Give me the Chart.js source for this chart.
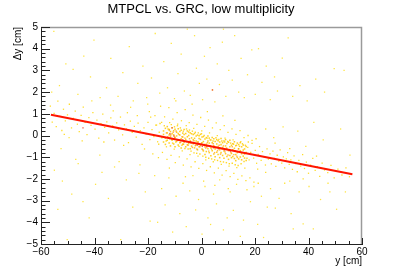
<!DOCTYPE html>
<html>
<head>
<meta charset="utf-8">
<script src="https://cdn.jsdelivr.net/npm/chart.js@4/dist/chart.umd.min.js"></script>
<style>
html,body{margin:0;padding:0;background:#fff;}
canvas{display:block;}
</style>
</head>
<body>
<canvas id="c" width="402" height="273"></canvas>
<script>
const chartTitle = "MTPCL vs. GRC, low multiplicity";
const xTitle = "y [cm]";
const yTitle = "\u0394y [cm]";
const xRange = [-60, 60];
const yRange = [-5, 5];

// linear fit drawn on top
const fitX = [-56.3, 56.4];
const fitY = [0.96, -1.79];

// sparse background points [y, dy]
const haloPts = [
[-55.2,4.8],[-53.1,2.3],[-50.7,3.3],[-48.0,3.05],[-46.2,1.9],[-44.0,3.66],[-41.5,2.7],[-40.2,4.4],[-37.9,1.75],[-35.5,2.2],
[-33.9,3.55],[-31.2,1.8],[-29.4,2.9],[-27.0,4.1],[-25.5,1.6],[-23.8,2.4],[-21.9,3.2],[-20.5,1.75],[-18.7,2.65],[-17.3,4.7],
[-15.6,1.95],[-14.1,3.4],[-12.7,2.2],[-11.3,4.25],[-10.1,1.7],[-8.8,2.85],[-7.6,3.75],[-6.4,2.05],[-5.3,4.9],[-4.2,1.85],
[-2.6,4.6],[-1.9,3.1],[-0.8,2.4],[0.4,1.65],[1.1,3.65],[2.0,2.6],[3.2,4.05],[4.1,2.1],[5.0,1.55],[5.9,3.3],
[6.7,2.35],[7.8,4.3],[8.2,4.9],[9.1,1.8],[10.2,3.0],[11.5,2.55],[12.4,4.6],[13.9,2.0],[14.8,3.55],[16.0,1.75],
[17.2,2.8],[18.8,3.95],[20.1,1.9],[21.3,4.0],[22.6,2.45],[24.2,3.2],[25.7,1.65],[27.3,2.7],[28.4,2.05],[30.2,3.57],
[32.4,4.5],[34.1,1.8],[36.8,2.3],[39.5,1.6],[42.7,2.6],[46.0,2.0],[49.6,3.08],[53.3,3.0],
[-55.0,-1.6],[-53.7,-3.4],[-52.0,-2.1],[-50.2,-4.8],[-48.5,-2.7],[-46.1,-1.3],[-44.3,-3.05],[-42.0,-3.8],[-39.6,-2.25],[-37.2,-1.7],
[-34.8,-2.9],[-32.5,-1.45],[-30.2,-4.8],[-28.1,-2.05],[-25.7,-3.3],[-23.4,-1.75],[-21.0,-2.6],[-19.2,-3.95],[-17.5,-1.85],[-16.4,-4.0],
[-14.9,-2.45],[-13.6,-3.2],[-12.2,-1.95],[-10.8,-4.45],[-9.5,-2.8],[-8.1,-3.6],[-6.9,-2.2],[-5.7,-4.2],[-4.4,-2.55],[-3.2,-1.85],
[-2.2,-3.43],[-1.1,-2.95],[0.2,-4.55],[1.3,-2.35],[2.4,-3.8],[3.4,-4.1],[4.5,-2.7],[5.6,-3.15],[6.8,-2.05],[8.2,-4.35],
[9.6,-3.8],[10.7,-2.6],[11.9,-3.45],[13.1,-2.25],[14.5,-4.65],[15.7,-3.9],[17.0,-2.5],[18.3,-3.05],[19.6,-2.35],[21.0,-4.1],
[22.4,-2.8],[23.2,-4.7],[24.6,-3.3],[25.8,-2.45],[27.6,-3.35],[29.0,-2.9],[31.1,-2.2],[33.5,-3.6],[34.3,-4.3],[36.5,-2.6],
[38.0,-4.07],[40.2,-2.35],[41.8,-4.3],[44.5,-2.95],[47.3,-2.2],[50.5,-3.4],[53.8,-2.6],
[-52.5,-0.6],[-47.0,-1.1],[-41.0,1.6],[-38.0,-0.9],[-34.0,1.4],[-30.8,-1.2],[-26.5,1.3],[-23.0,-1.35],[-20.1,1.45],[24.0,0.3],
[27.0,-0.1],[30.5,0.4],[33.0,-2.1],[36.0,0.2],[39.0,-0.5],[42.0,0.6],[45.5,-0.2],[48.0,-2.6],[52.0,0.3],[55.5,-0.9],
[-56.0,2.0],[-49.5,-0.1]
];

// points along the correlation band
const bandPts = [
[-56.5,1.35],[-55.8,0.62],[-55.1,1.02],[-54.3,0.41],[-53.7,1.58],[-53.0,0.88],[-52.2,0.23],[-51.6,1.21],[-50.9,0.67],[-50.1,0.95],
[-49.4,1.44],[-48.6,0.35],[-47.9,0.79],[-47.2,1.12],[-46.4,0.52],[-45.7,0.18],[-45.0,0.93],[-44.2,1.31],[-43.5,0.61],[-42.8,0.04],
[-42.1,0.82],[-41.3,0.47],[-40.6,1.05],[-39.8,0.29],[-39.1,0.71],[-38.4,-0.12],[-37.6,0.55],[-36.9,0.98],[-36.2,0.37],[-35.4,0.63],
[-34.7,0.12],[-33.9,0.81],[-33.2,0.44],[-32.5,-0.21],[-31.7,0.58],[-31.0,0.26],[-30.3,0.85],[-29.5,0.03],[-28.8,0.49],[-28.1,0.31],
[-27.3,-0.33],[-26.6,0.66],[-25.9,0.14],[-25.1,0.42],[-24.4,-0.08],[-23.7,0.57],[-22.9,0.22],[-22.2,-0.41],[-21.5,0.35],[-20.7,0.06],
[-20.0,0.61],[-19.3,-0.19],[-18.5,0.27],[-17.8,-0.05],[-17.1,0.48],[-16.4,-0.29],[-15.8,0.15],[-24.0,0.92],[-27.7,1.05],[-33.0,1.14],
[-19.0,0.85],[-21.3,-0.62],[-29.1,-0.45],[-36.5,-0.3],[-44.6,-0.25],[-51.3,0.05],
[17.3,-0.55],[17.8,-1.12],[18.4,-0.78],[18.9,-0.36],[19.5,-1.04],[20.1,-0.69],[20.6,-1.28],[21.2,-0.87],[21.7,-0.51],[22.3,-1.15],
[22.8,-0.74],[23.4,-0.98],[23.9,-1.36],[24.5,-0.62],[25.0,-1.09],[25.6,-0.85],[26.1,-1.31],[26.7,-0.72],[27.2,-1.05],[27.8,-1.42],
[28.3,-0.91],[28.9,-1.18],[29.4,-0.66],[30.0,-1.27],[30.6,-0.98],[31.1,-1.49],[31.7,-1.08],[32.2,-0.79],[32.8,-1.33],[33.4,-1.12],
[34.0,-1.56],[34.6,-0.94],[35.2,-1.29],[35.8,-1.67],[36.4,-1.15],[37.1,-1.41],[37.8,-0.88],[38.5,-1.52],[39.2,-1.23],[40.0,-1.74],
[40.8,-1.36],[41.6,-1.05],[42.5,-1.61],[43.3,-1.44],[44.2,-1.88],[45.1,-1.27],[46.0,-1.59],[47.2,-1.71],[48.4,-1.38],[49.6,-1.95],
[51.0,-1.55],[52.5,-1.82],[54.0,-1.49],[55.3,-1.9],[21.0,-1.55],[24.0,-1.7],[27.5,-0.35],[33.0,-0.6],[38.0,-2.0],[43.0,-0.95]
];

// wider spread around the central cluster
const widePts = [
[-19.5,1.1],[-18.2,-0.85],[-17.4,0.92],[-16.1,-1.02],[-15.3,1.35],[-14.6,-0.78],[-13.8,0.86],[-12.9,-1.1],[-12.2,1.28],[-11.4,-0.92],
[-10.7,0.75],[-9.8,-1.25],[-9.1,1.05],[-8.3,-0.98],[-7.5,0.68],[-6.8,-1.36],[-6.1,1.19],[-5.4,-1.08],[-4.6,0.59],[-3.9,-1.45],
[-3.2,0.94],[-2.4,-1.21],[-1.7,0.51],[-1.0,-1.52],[-0.3,0.83],[0.5,-1.3],[1.2,0.42],[1.9,-1.61],[2.6,0.71],[3.3,-1.44],
[4.1,0.35],[4.8,-1.72],[5.5,0.58],[6.3,-1.5],[7.0,0.27],[7.7,-1.83],[8.5,0.46],[9.2,-1.62],[9.9,0.14],[10.7,-1.9],
[11.4,0.31],[12.1,-1.75],[12.9,0.05],[13.6,-2.02],[14.4,0.22],[15.1,-1.86],[15.9,-0.1],[16.6,-2.08],[17.4,0.0],[18.1,-1.95],
[18.9,-0.22],[19.6,-2.15],[20.4,-0.15],[21.2,-2.2],[-16.8,0.48],[-14.9,0.61],[-13.1,-0.52],[-11.9,0.59],[-10.2,-0.63],[-8.9,0.52],
[-7.2,-0.71],[-5.7,0.45],[-4.3,-0.88],[-2.9,0.33],[-1.3,-0.95],[0.1,0.21],[1.6,-1.12],[3.0,0.12],[4.4,-1.21],[5.9,-0.01],
[7.4,-1.33],[8.8,-0.12],[10.3,-1.41],[11.8,-0.2],[13.2,-1.48],[14.7,-0.28],[16.2,-1.5],[-3.5,1.45],[2.2,1.1],[8.0,0.9],
[-9.6,1.6],[12.5,0.7],[5.0,-2.3],[-6.0,-1.9],[0.8,-2.1],[10.0,-2.45],[-12.0,-1.5]
];

// dense central cluster
const corePts = [
[-14.2,0.21],[-14.2,-0.30],[-14.2,0.05],[-13.5,-0.12],[-13.5,0.33],[-13.5,-0.41],[-12.8,0.12],[-12.8,-0.22],[-12.8,0.41],
[-12.1,-0.35],[-12.1,0.02],[-12.1,0.27],[-11.6,0.18],[-11.6,-0.48],[-11.6,-0.05],[-11.0,-0.22],[-11.0,0.36],[-11.0,0.08],
[-10.4,0.03],[-10.4,-0.39],[-10.4,0.22],[-9.9,-0.09],[-9.9,0.29],[-9.9,-0.52],[-9.3,0.15],[-9.3,-0.27],[-9.3,-0.02],
[-8.7,-0.44],[-8.7,0.09],[-8.7,0.31],[-8.1,0.02],[-8.1,-0.33],[-8.1,0.18],[-7.6,-0.15],[-7.6,0.24],[-7.6,-0.58],
[-7.0,0.11],[-7.0,-0.40],[-7.0,-0.07],[-6.5,-0.31],[-6.5,0.05],[-6.5,0.28],[-5.9,0.09],[-5.9,-0.52],[-5.9,-0.18],
[-5.3,-0.06],[-5.3,0.21],[-5.3,-0.43],[-4.8,-0.37],[-4.8,0.00],[-4.8,0.16],[-4.2,0.12],[-4.2,-0.25],[-4.2,-0.61],
[-3.7,-0.11],[-3.7,-0.49],[-3.7,0.08],[-3.1,0.05],[-3.1,-0.38],[-3.1,-0.20],[-2.6,-0.57],[-2.6,-0.13],[-2.6,0.09],
[-2.0,-0.02],[-2.0,-0.44],[-2.0,-0.25],[-1.5,-0.30],[-1.5,0.02],[-1.5,-0.66],[-0.9,-0.14],[-0.9,-0.52],[-0.9,-0.01],
[-0.4,-0.45],[-0.4,-0.18],[-0.4,0.05],[0.2,-0.07],[0.2,-0.62],[0.2,-0.33],[0.7,-0.28],[0.7,-0.71],[0.7,-0.05],
[1.3,-0.53],[1.3,-0.16],[1.3,-0.88],[1.8,-0.10],[1.8,-0.40],[1.8,-0.74],[2.4,-0.61],[2.4,-0.25],[2.4,-0.02],
[2.9,-0.35],[2.9,-0.79],[2.9,-0.12],[3.5,-0.21],[3.5,-0.58],[3.5,-0.93],[4.0,-0.70],[4.0,-0.33],[4.0,-0.09],
[4.6,-0.15],[4.6,-0.47],[4.6,-0.85],[5.1,-0.62],[5.1,-0.28],[5.1,-0.98],[5.7,-0.39],[5.7,-0.77],[5.7,-0.19],
[6.2,-0.88],[6.2,-0.51],[6.2,-0.24],[6.8,-0.30],[6.8,-0.66],[6.8,-1.02],[7.3,-0.79],[7.3,-0.42],[7.3,-0.14],
[7.9,-0.55],[7.9,-0.92],[7.9,-0.33],[8.4,-0.25],[8.4,-0.71],[8.4,-1.05],[9.0,-0.84],[9.0,-0.48],[9.0,-0.19],
[9.5,-0.37],[9.5,-0.97],[9.5,-0.60],[10.1,-0.70],[10.1,-0.31],[10.1,-1.10],[10.6,-0.92],[10.6,-0.52],[10.6,-0.22],
[11.2,-0.45],[11.2,-0.83],[11.2,-1.02],[11.7,-0.97],[11.7,-0.38],[11.7,-0.66],[12.3,-0.59],[12.3,-1.06],[12.3,-0.29],
[12.8,-0.88],[12.8,-0.47],[12.8,-1.16],[13.4,-0.35],[13.4,-0.79],[13.4,-1.01],[13.9,-1.08],[13.9,-0.61],[13.9,-0.42],
[14.5,-0.70],[14.5,-0.99],[14.5,-0.33],[15.0,-0.52],[15.0,-1.12],[15.0,-0.84],[15.6,-0.95],[15.6,-0.44],[15.6,-0.67],
[16.1,-0.62],[16.1,-1.04],[16.1,-0.85],[16.7,-0.78],[16.7,-0.51],[16.7,-1.15]
];
const core2Pts = [
[-14.8,-0.1],[-13.9,0.45],[-13.2,-0.25],[-12.5,0.3],[-11.9,-0.15],[-11.3,0.5],[-10.8,-0.35],[-10.1,0.4],[-9.6,-0.3],[-9.0,0.45],
[-8.4,-0.5],[-7.9,0.35],[-7.3,-0.45],[-6.8,0.2],[-6.2,-0.6],[-5.6,0.3],[-5.0,-0.62],[-4.5,0.25],[-3.9,-0.72],[-3.4,0.2],
[-2.8,-0.8],[-2.3,0.15],[-1.8,-0.82],[-1.2,0.12],[-0.6,-0.85],[0.0,0.08],[0.5,-0.95],[1.0,0.0],[1.6,-1.0],[2.1,-0.12],
[2.7,-1.05],[3.2,-0.2],[3.8,-1.08],[4.3,-0.25],[4.9,-1.12],[5.4,-0.1],[6.0,-1.15],[6.5,-0.18],[7.1,-1.2],[7.6,-0.25],
[8.2,-1.22],[8.7,-0.3],[9.3,-1.25],[9.8,-0.28],[10.4,-1.3],[10.9,-0.35],[11.5,-1.28],[12.0,-0.4],[12.6,-1.35],[13.1,-0.45],
[13.7,-1.38],[14.2,-0.5],[14.8,-1.3],[15.3,-0.38],[15.9,-1.2],[16.4,-0.45],[17.0,-1.05],[-15.5,0.55],[-16.0,-0.4],[17.5,-0.3]
];

// highest-density cells
const hotPts = [
[-13.1,0.12],[-12.6,-0.05],[-12.0,0.25],[-11.5,0.02],[-11.1,-0.18],[-10.6,0.15],[-10.0,-0.08],[-9.5,0.21],[-9.0,-0.22],[-8.4,0.04],
[-7.8,-0.31],[-7.3,-0.06],[-6.7,-0.4],[-6.2,-0.12],[-5.6,-0.28],[-5.0,-0.45],[-4.5,-0.15],[-3.9,-0.36],[-3.4,-0.55],[-2.8,-0.24],
[-2.3,-0.47],[-1.7,-0.62],[-1.2,-0.3],[-0.6,-0.52],[0.0,-0.36],[0.5,-0.66],[1.1,-0.41],[1.6,-0.58],[2.2,-0.33],[2.7,-0.72],
[3.3,-0.47],[3.8,-0.63],[4.4,-0.38],[4.9,-0.79],[5.5,-0.55],[6.0,-0.7],[6.6,-0.45],[7.1,-0.86],[7.7,-0.62],[8.2,-0.48],
[8.8,-0.76],[9.3,-0.58],[9.9,-0.9],[10.4,-0.65],[11.0,-0.79],[11.5,-0.52],[12.1,-0.88],[12.6,-0.7],[13.2,-0.95],[13.8,-0.62]
];
const redPts = [
[-11.8,0.08],[-10.3,-0.02],[-4.1,-0.3],[-1.5,-0.44],[2.0,-0.52],[6.3,-0.61],[8.6,-0.66],[-7.0,-0.2],[4.6,-0.57],[10.8,-0.72],
[0.3,-0.5],[-11.0,0.35],[4.1,2.1],[-44.3,0.35]
];

const toXY = arr => arr.map(p => ({x: p[0], y: p[1]}));
const minusFmt = v => String(v).replace('-', '\u2212');

const framePlugin = {
  id: 'rootFrame',
  afterDraw(chart) {
    const {ctx, chartArea: a, scales} = chart;
    const xs = scales.x, ys = scales.y;
    ctx.save();
    ctx.strokeStyle = '#9a9a9a';
    ctx.lineWidth = 1.5;
    ctx.beginPath();
    ctx.moveTo(a.left, a.top + 0.5);
    ctx.lineTo(a.right - 0.5, a.top + 0.5);
    ctx.lineTo(a.right - 0.5, a.bottom);
    ctx.stroke();
    ctx.strokeStyle = '#222';
    ctx.lineWidth = 1;
    ctx.beginPath();
    for (let i = 0; i <= 50; i++) {
      const v = yRange[0] + i * 0.2;
      const py = Math.round(ys.getPixelForValue(v)) + 0.5;
      const len = (i % 5 === 0) ? 9 : 4.5;
      ctx.moveTo(a.left, py);
      ctx.lineTo(a.left + len, py);
    }
    for (let i = 0; i <= 24; i++) {
      const v = xRange[0] + i * 5;
      const px = Math.round(xs.getPixelForValue(v)) + 0.5;
      const len = (i % 4 === 0) ? 6 : 3;
      ctx.moveTo(px, a.bottom);
      ctx.lineTo(px, a.bottom - len);
    }
    ctx.stroke();
    ctx.restore();
  }
};

const ptDs = (label, pts, color, r, order) => ({
  type: 'scatter', label, data: toXY(pts),
  pointStyle: 'rect', pointRadius: r, pointBorderWidth: 0,
  backgroundColor: color, borderColor: color, order
});

new Chart(document.getElementById('c'), {
  data: {
    datasets: [
      {
        type: 'line', label: 'fit', yAxisID: 'y',
        data: fitX.map((x, i) => ({x, y: fitY[i]})),
        borderColor: '#ff1500', borderWidth: 2, pointRadius: 0, fill: false, order: 0
      },
      ptDs('red', redPts, 'rgba(235,60,40,0.8)', 1.0, 1),
      ptDs('hot', hotPts, 'rgba(255,150,0,0.7)', 1.0, 2),
      ptDs('core', corePts, 'rgba(255,200,0,0.85)', 1.1, 3),
      ptDs('core2', core2Pts, 'rgba(255,210,0,0.85)', 1.0, 4),
      ptDs('wide', widePts, 'rgba(255,215,0,0.85)', 0.9, 5),
      ptDs('band', bandPts, 'rgba(255,215,0,0.85)', 0.9, 6),
      ptDs('halo', haloPts, 'rgba(255,225,30,0.85)', 0.9, 7)
    ]
  },
  options: {
    responsive: false,
    animation: false,
    devicePixelRatio: 1,
    layout: {padding: {left: 0, right: 0, top: 0, bottom: 0}},
    plugins: {
      legend: {display: false},
      tooltip: {enabled: false},
      title: {
        display: true, text: chartTitle, color: '#000',
        font: {family: 'Liberation Sans', size: 13, weight: 'normal'},
        padding: {top: 2, bottom: 9.4}
      }
    },
    scales: {
      x: {
        type: 'linear', min: xRange[0], max: xRange[1],
        afterFit: s => { s.height = 29; },
        ticks: {stepSize: 20, color: '#000', padding: 2, maxRotation: 0,
                font: {family: 'Liberation Sans', size: 10}, callback: minusFmt},
        grid: {drawOnChartArea: false, drawTicks: false},
        border: {display: true, color: '#222', width: 1},
        title: {display: true, text: xTitle, align: 'end', color: '#000',
                font: {family: 'Liberation Sans', size: 10}, padding: {top: 0, bottom: 6}}
      },
      y: {
        type: 'linear', position: 'left', min: yRange[0], max: yRange[1],
        afterFit: s => { s.width = 41; },
        ticks: {stepSize: 1, color: '#000', padding: 3,
                font: {family: 'Liberation Sans', size: 10}, callback: minusFmt},
        grid: {drawOnChartArea: false, drawTicks: false},
        border: {display: true, color: '#222', width: 1},
        title: {display: true, text: yTitle, align: 'end', color: '#000',
                font: {family: 'Liberation Sans', size: 10}, padding: {top: 12, bottom: 0}}
      },
      yRight: {
        type: 'linear', position: 'right', min: yRange[0], max: yRange[1],
        afterFit: s => { s.width = 40; },
        ticks: {display: false},
        grid: {display: false, drawTicks: false},
        border: {display: false}
      }
    }
  },
  plugins: [framePlugin]
});
</script>
</body>
</html>
